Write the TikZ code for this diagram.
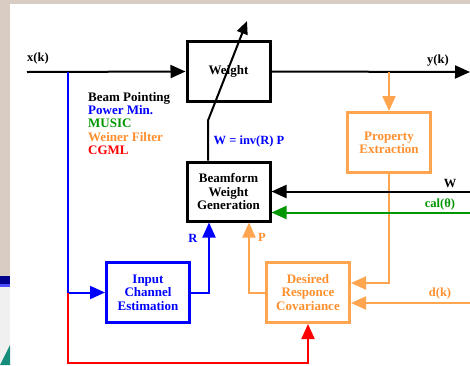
\documentclass[tikz,border=0pt]{standalone}
\usepackage{fontspec}
\setmainfont{Liberation Serif}
\usetikzlibrary{calc, arrows.meta}

\definecolor{frame}{HTML}{D9CCC2}
\definecolor{navy}{HTML}{00008C}
\definecolor{teal}{HTML}{168C7A}
\definecolor{grn}{HTML}{009600}
\definecolor{orgline}{HTML}{FFA54F}
\definecolor{orgtext}{HTML}{FF8F2E}

\tikzset{
  tip/.style={-{Triangle[length=15pt,width=13pt]}},
  blkbox/.style={draw=black, line width=3pt, minimum width=83pt, minimum height=60pt,
    align=center, font=\fontsize{13}{13.3}\selectfont\bfseries},
  blubox/.style={blkbox, draw=blue, text=blue},
  orgbox/.style={blkbox, draw=orgline, text=orgtext},
  lbl/.style={font=\fontsize{12.5}{13}\selectfont\bfseries, inner sep=0pt}
}

\begin{document}
\begin{tikzpicture}[x=1pt, y=-1pt]

% frame round the drawing
\useasboundingbox (0,0) rectangle (470,365);
\fill[frame] (0,0) rectangle (470,4);
\fill[frame] (0,0) rectangle (10,365);
\fill[navy] (0,276) rectangle (10,284);
\fill[blue!70] (0,284) rectangle (10,287);
\fill[gray!12] (0,287) rectangle (10,365);
\fill[teal] (0,365) -- (10,345) -- (10,365) -- cycle;

% blocks
\node[blkbox] (weight) at (228.5,71.5) {Weight};
\node[blkbox, minimum height=59pt] (beamform) at (228.5,191.5) {Beamform\\Weight\\Generation};
\node[orgbox] (property) at (389,142.5) {Property\\Extraction};
\node[orgbox] (desired) at (308,292.5) {Desired\\Responce\\Covariance};
\node[blubox] (input) at (148,292.5) {Input\\Channel\\Estimation};

% free ends
\coordinate (xin) at (27,72);
\coordinate (xtap) at (68,72);
\coordinate (yout) at (470,72);
\coordinate (ytap) at (389,72);
\coordinate (win) at (470,191.5);
\coordinate (calin) at (470,212.5);
\coordinate (dkin) at (470,303);
\coordinate (wtip) at (247,21);
\coordinate (btap) at (xtap |- input.west);

% signal path
\draw[line width=2pt, tip] (xin) -- (weight.west);
\draw[line width=2pt, tip] (weight.east) -- (yout);
\draw[orgline, line width=2pt, tip] (ytap) -- (property.north);
\draw[orgline, line width=2pt, tip] (property.south) |- ($(desired.east)+(0,-9.5)$);
\draw[orgline, line width=2pt, tip] (dkin) -- ($(desired.east)+(0,10.5)$);
\draw[orgline, line width=2pt, tip] (desired.west) -| ($(beamform.south)+(20.5,0)$);
\draw[blue, line width=2pt, tip] (xtap) |- (input.west);
\draw[blue, line width=2pt, tip] (input.east) -| ($(beamform.south)+(-19.5,0)$);
\draw[red, line width=2pt, tip] (btap) -- ++(0,70.5) -| (desired.south);
\draw[line width=2pt, tip] (win) -- (beamform.east);
\draw[grn, line width=2pt, tip] (calin) -- ($(beamform.east)+(0,21)$);

% weight update
\draw[line width=2pt, -{Triangle[length=13pt,width=11pt]}]
  ($(beamform.north)+(-20.5,0)$) -- ++(0,-40) -- (wtip);

% labels
\node[lbl] at (38,58) {x(k)};
\node[lbl] at (438,61) {y(k)};
\node[lbl] at (450,183) {W};
\node[lbl, text=grn] at (440,204) {cal(θ)};
\node[lbl, text=orgtext] at (440,293) {d(k)};
\node[lbl, text=orgtext] at (262,237) {P};
\node[lbl, text=blue] at (193,238) {R};
\node[lbl, text=blue] at (249,141) {W = inv(R) P};
\node[lbl, anchor=north west, align=left, font=\fontsize{13}{13.3}\selectfont\bfseries]
  (methods) at (88,92) {Beam Pointing\\
  \textcolor{blue}{Power Min.}\\
  \textcolor{grn}{MUSIC}\\
  \textcolor{orgtext}{Weiner Filter}\\
  \textcolor{red}{CGML}};

\end{tikzpicture}
\end{document}
